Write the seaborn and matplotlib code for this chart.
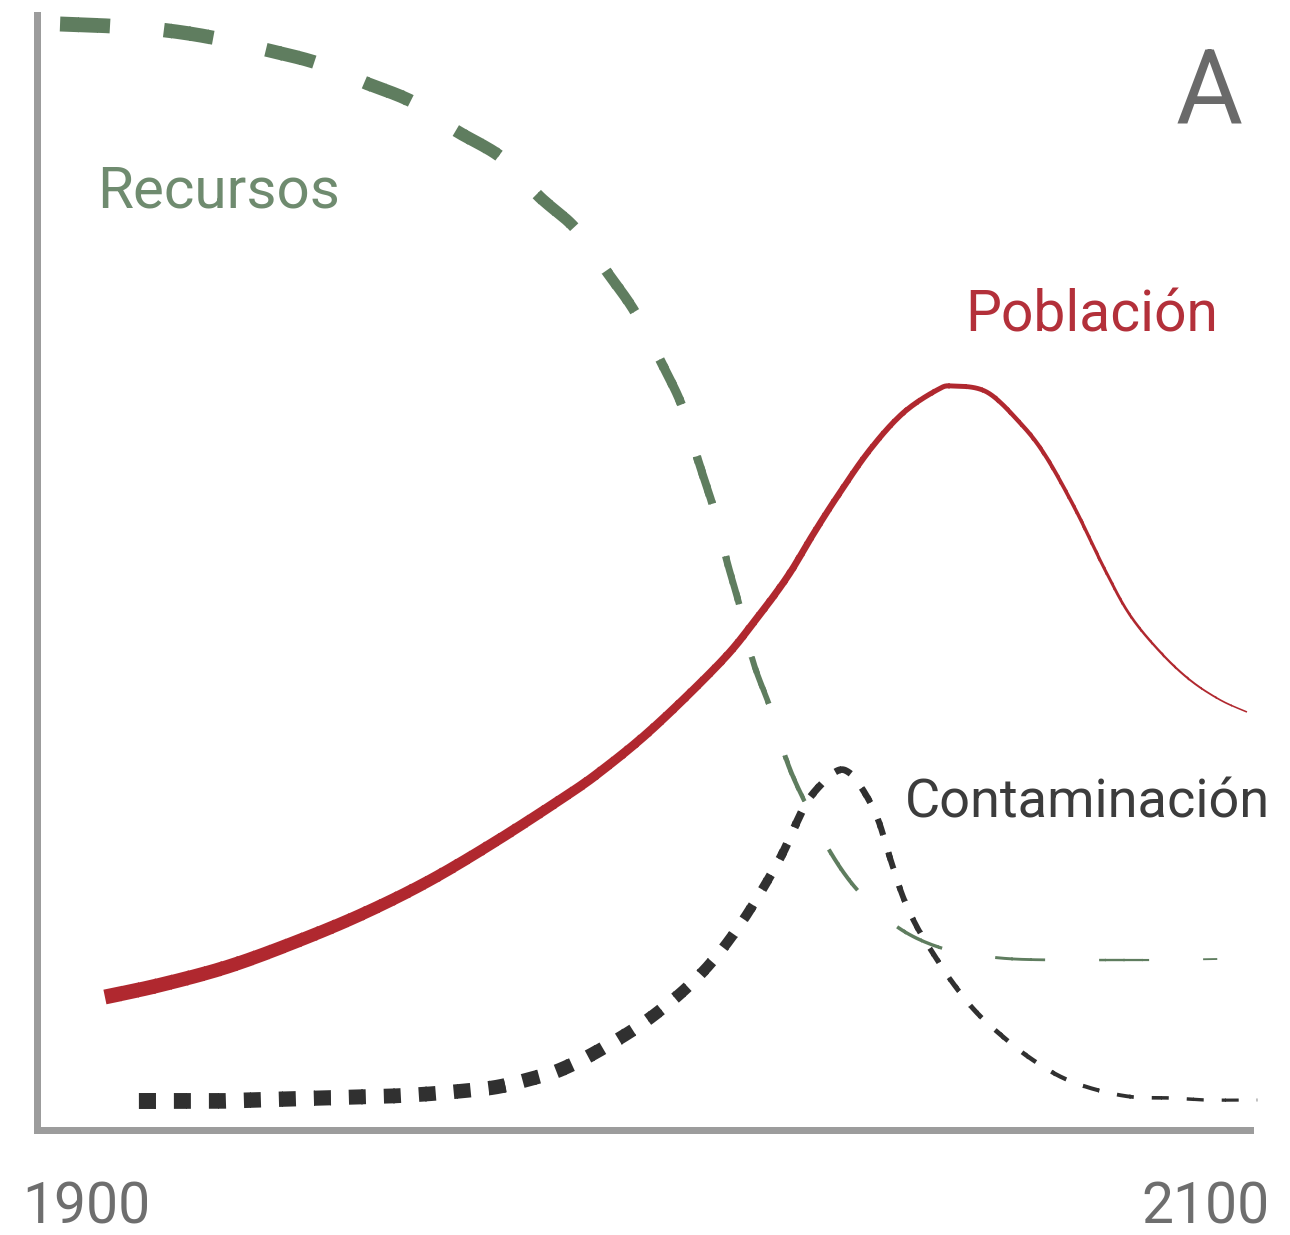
import numpy as np
import pandas as pd
import matplotlib
matplotlib.use('Agg')
import matplotlib.pyplot as plt
import seaborn as sns
from matplotlib.patches import Rectangle

sns.set_theme(style='white')
plt.rcParams['lines.scale_dashes'] = False
plt.rcParams['font.family'] = ['Roboto', 'DejaVu Sans']

# --- data (year, relative level) ---
recursos_year = [1903.8, 1912.0, 1920.8, 1929.3, 1937.9, 1946.2, 1953.8, 1962.0, 1968.9,
                 1976.7, 1982.9, 1988.7, 1994.1, 1998.6, 2002.9, 2006.5, 2009.0, 2011.5,
                 2013.8, 2015.9, 2018.1, 2020.9, 2023.7, 2026.6, 2031.1, 2036.0, 2042.6,
                 2050.2, 2058.8, 2067.5, 2076.1, 2084.8, 2094.6]
recursos_val = [110.6, 110.4, 110.0, 109.2, 108.0, 106.7, 104.8, 102.8, 100.0,
                97.2, 93.3, 90.2, 85.7, 81.8, 76.8, 72.2, 67.0, 62.3,
                56.8, 52.3, 46.8, 42.2, 36.8, 32.8, 27.5, 23.5, 20.0,
                18.0, 17.2, 17.0, 17.0, 17.0, 17.1]

poblacion_year = [1911.2, 1920.3, 1931.3, 1942.2, 1953.3, 1964.3, 1975.2, 1986.2, 1992.8,
                  2001.6, 2012.6, 2018.1, 2023.7, 2027.9, 2031.9, 2037.3, 2042.8, 2048.4,
                  2051.0, 2056.6, 2062.1, 2066.2, 2071.1, 2076.1, 2080.2, 2085.2, 2090.1,
                  2095.1, 2099.5]
poblacion_val = [13.3, 14.5, 16.3, 18.7, 21.5, 24.8, 28.7, 33.0, 35.8,
                 40.2, 46.7, 50.7, 55.3, 59.5, 63.3, 68.0, 71.7, 74.0,
                 74.4, 73.8, 70.7, 67.5, 62.2, 56.0, 51.5, 47.8, 45.0,
                 43.0, 41.8]

contaminacion_year = [1916.8, 1924.2, 1930.0, 1935.6, 1941.4, 1947.2, 1952.8, 1958.5, 1964.3,
                      1970.1, 1975.8, 1981.3, 1986.2, 1992.8, 2001.1, 2009.3, 2015.9, 2022.2,
                      2025.3, 2027.5, 2031.6, 2034.0, 2036.5, 2038.7, 2040.6, 2042.8, 2045.1,
                      2047.7, 2051.0, 2055.0, 2059.9, 2064.2, 2069.2, 2074.8, 2080.7, 2086.8,
                      2092.9, 2101.2]
contaminacion_val = [2.9, 2.9, 2.9, 3.0, 3.1, 3.2, 3.3, 3.4, 3.6,
                     3.9, 4.3, 5.1, 6.0, 8.0, 11.2, 15.5, 20.5, 26.8,
                     30.8, 33.3, 35.8, 35.7, 33.7, 31.0, 27.3, 23.3, 20.3,
                     17.7, 14.7, 11.7, 9.0, 7.0, 5.2, 4.0, 3.3, 3.2,
                     3.0, 3.0]

fig = plt.figure(figsize=(12.9, 12.35), dpi=100)
ax = fig.add_axes([37 / 1290, 105 / 1235, 1213 / 1290, 1115 / 1235])
ax.set_xlim(1900, 2100)
ax.set_ylim(0, 111.5)
ax.set_autoscale_on(False)

PX = 0.72  # points per pixel at 100 dpi


def smooth_path(xs, ys, k=12):
    # Catmull-Rom curve through the read points, done in screen space
    p = ax.transData.transform(np.column_stack([xs, ys]))
    p = np.vstack([p[0], p, p[-1]])
    t = np.linspace(0, 1, k, endpoint=False)[:, None]
    out = []
    for i in range(1, len(p) - 2):
        p0, p1, p2, p3 = p[i - 1], p[i], p[i + 1], p[i + 2]
        out.append(0.5 * (2 * p1 + (p2 - p0) * t + (2 * p0 - 5 * p1 + 4 * p2 - p3) * t ** 2
                          + (3 * p1 - p0 - 3 * p2 + p3) * t ** 3))
    out.append(p[-2][None, :])
    out = np.vstack(out)
    d = ax.transData.inverted().transform(out)
    return d[:, 0], d[:, 1], out


def tapered(xs, ys, color, knots_t, knots_w, dashes=None, n=90):
    sx, sy, pts = smooth_path(xs, ys)
    df = pd.DataFrame({'year': sx, 'nivel': sy})
    s = np.concatenate([[0], np.cumsum(np.hypot(*np.diff(pts, axis=0).T))])
    edges = np.interp(np.linspace(0, s[-1], n + 1), s, sx)
    edges[0] -= 3
    edges[-1] += 3
    f = np.linspace(0, 1, n + 1)
    widths = np.interp((f[:-1] + f[1:]) / 2, knots_t, knots_w) * PX
    ls = '-' if dashes is None else (0, tuple(d * PX for d in dashes))
    for x0, x1, w in zip(edges[:-1], edges[1:], widths):
        sns.lineplot(data=df, x='year', y='nivel', ax=ax, sort=False, estimator=None,
                     color=color, linewidth=w, linestyle=ls,
                     dash_capstyle='butt', solid_capstyle='butt')
        line = ax.lines[-1]
        line.set_clip_path(Rectangle((x0 - 0.12, -50), x1 - x0 + 0.24, 250,
                                     transform=ax.transData))


tapered(recursos_year, recursos_val, '#5f7d5f', [0, 0.3, 0.7, 1], [15, 12, 4.5, 1.8],
        dashes=(50, 54))
tapered(poblacion_year, poblacion_val, '#b0282f', [0, 0.45, 0.7, 1], [15, 8, 5, 1.5])
tapered(contaminacion_year, contaminacion_val, '#303030', [0, 0.3, 0.6, 1], [16, 14, 6.5, 3],
        dashes=(17, 18))

ax.set(xlabel='', ylabel='', xticks=[], yticks=[])
sns.despine(ax=ax)
for side in ['left', 'bottom']:
    ax.spines[side].set_color('#9c9c9c')
    ax.spines[side].set_linewidth(7 * PX)

ax.text(1909.9, 92.3, 'Recursos', color='#6f8b6f', fontsize=42, ha='left', va='baseline', clip_on=False)
ax.text(2053.0, 79.8, 'Población', color='#b3303a', fontsize=41, ha='left', va='baseline', clip_on=False)
ax.text(2043.1, 31.2, 'Contaminación', color='#3c3c3c', fontsize=39, ha='left', va='baseline', clip_on=False)
ax.text(2098.8, 100.7, 'A', color='#6a6a6a', fontsize=74, ha='right', va='baseline', clip_on=False)
ax.text(1897.5, -9.4, '1900', color='#6e6e6e', fontsize=41, ha='left', va='baseline', clip_on=False)
ax.text(2103.3, -9.4, '2100', color='#6e6e6e', fontsize=41, ha='right', va='baseline', clip_on=False)

fig.savefig('out.png', dpi=100, facecolor='white')
